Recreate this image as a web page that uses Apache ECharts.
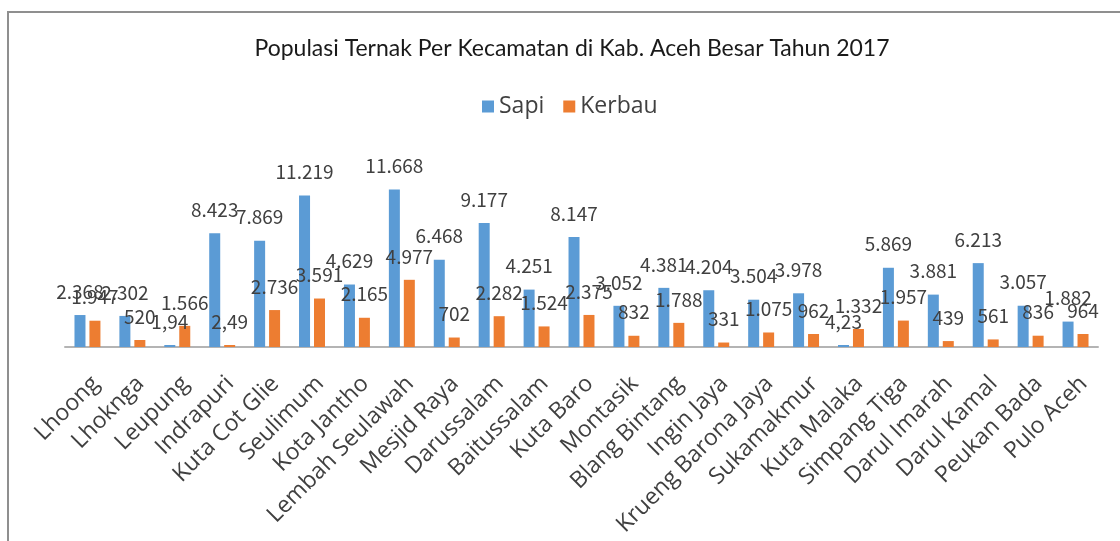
<!DOCTYPE html>
<html>
<head>
<meta charset="utf-8">
<script src="https://cdn.jsdelivr.net/npm/echarts@6/dist/echarts.min.js"></script>
<style>
  html, body { margin: 0; padding: 0; background: #fff; }
  #chart { width: 1120px; height: 541px; }
</style>
</head>
<body>
<div id="chart"></div>
<script>
// data (Indonesian number format on labels)
var kecamatan = ['Lhoong', 'Lhoknga', 'Leupung', 'Indrapuri', 'Kuta Cot Glie', 'Seulimum', 'Kota Jantho',
  'Lembah Seulawah', 'Mesjid Raya', 'Darussalam', 'Baitussalam', 'Kuta Baro', 'Montasik', 'Blang Bintang',
  'Ingin Jaya', 'Krueng Barona Jaya', 'Sukamakmur', 'Kuta Malaka', 'Simpang Tiga', 'Darul Imarah',
  'Darul Kamal', 'Peukan Bada', 'Pulo Aceh']
var sapi = [2368, 2302, 1.94, 8423, 7869, 11219, 4629, 11668, 6468, 9177, 4251, 8147, 3052, 4381, 4204,
  3504, 3978, 4.23, 5869, 3881, 6213, 3057, 1882]
var kerbau = [1947, 520, 1566, 2.49, 2736, 3591, 2165, 4977, 702, 2282, 1524, 2375, 832, 1788, 331,
  1075, 962, 1332, 1957, 439, 561, 836, 964]

// 2368 -> "2.368", 1.94 -> "1,94"
function fmt(v) {
  if (v % 1 !== 0) return String(v).replace('.', ',')
  return String(v).replace(/\B(?=(\d{3})+(?!\d))/g, '.')
}

var labelStyle = {
  show: true,
  position: 'top',
  distance: 14,
  color: '#404040',
  fontSize: 19,
  fontFamily: 'Noto Sans CJK JP',
  formatter: function(p) { return fmt(p.value) }
}

var myChart = echarts.init(document.getElementById('chart'))
myChart.setOption({
  animation: false,
  title: {
    text: 'Populasi Ternak Per Kecamatan di Kab. Aceh Besar Tahun 2017',
    left: 567,
    top: 32,
    textAlign: 'center',
    textStyle: {
      color: '#1a1a1a',
      fontSize: 23,
      fontWeight: 'normal',
      fontFamily: 'Lato'
    }
  },
  legend: {
    data: ['Sapi', 'Kerbau'],
    left: 477,
    top: 90,
    icon: 'rect',
    itemWidth: 12,
    itemHeight: 12,
    itemGap: 19,
    textStyle: {
      color: '#404040',
      fontSize: 23,
      fontFamily: 'Open Sans'
    }
  },
  graphic: [{
    type: 'rect',
    shape: { x: 8, y: 12, width: 1200, height: 600 },
    style: { fill: 'none', stroke: '#8f8f8f', lineWidth: 2 }
  }],
  grid: {
    left: 65,
    right: 22,
    top: 158,
    bottom: 194
  },
  xAxis: {
    type: 'category',
    data: kecamatan,
    axisLine: {
      lineStyle: { color: '#b4b4b4', width: 2 }
    },
    axisTick: { show: false },
    axisLabel: {
      interval: 0,
      rotate: 45,
      margin: 25,
      verticalAlign: 'top',
      color: '#404040',
      fontSize: 23,
      fontFamily: 'Open Sans'
    }
  },
  yAxis: {
    type: 'value',
    min: 0,
    max: 14000,
    show: false,
    splitLine: { show: false }
  },
  series: [
    {
      name: 'Sapi',
      type: 'bar',
      data: sapi,
      barWidth: 11,
      barGap: '36%',
      barMinHeight: 2,
      itemStyle: { color: '#5B9BD5' },
      label: labelStyle
    },
    {
      name: 'Kerbau',
      type: 'bar',
      data: kerbau,
      barWidth: 11,
      barGap: '36%',
      barMinHeight: 2,
      itemStyle: { color: '#ED7D31' },
      label: labelStyle
    }
  ]
})
</script>
</body>
</html>
